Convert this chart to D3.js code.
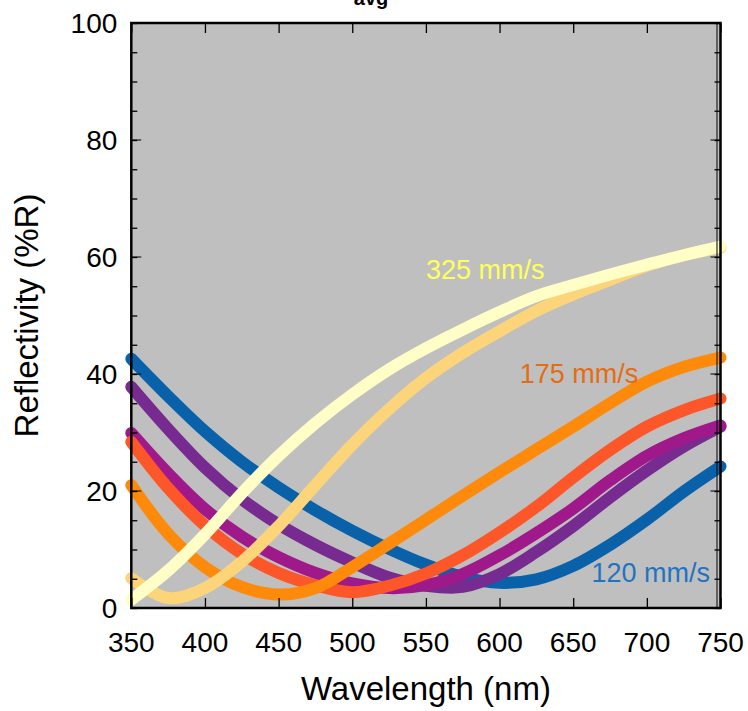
<!DOCTYPE html>
<html>
<head>
<meta charset="utf-8">
<script src="https://cdn.jsdelivr.net/npm/d3@7"></script>
<style>
    body { margin: 0; background: #ffffff; }
    #reflectivity-chart { width: 748px; height: 711px; }
    text { font-family: "Liberation Sans", Arial, sans-serif; }
</style>
</head>
<body>
<div id="reflectivity-chart"></div>
<script>
// wavelength grid (nm) shared by every curve
var wavelengths = [350, 375, 400, 425, 450, 475, 500, 525, 550, 575, 600, 625, 650, 675, 700, 725, 750];

// reflectivity (%R), one array per scan speed
var speed120 = [42.6, 36.2, 30.2, 25.0, 20.6, 16.7, 13.2, 10.1, 7.4, 5.3, 4.3, 4.9, 7.2, 10.8, 15.1, 19.9, 24.2];
var speedB = [37.8, 30.6, 24.0, 18.6, 14.3, 10.8, 7.8, 5.2, 3.8, 3.6, 5.8, 9.6, 14.0, 18.9, 23.5, 27.6, 31.0];
var speedC = [29.9, 23.0, 16.9, 12.2, 8.7, 6.0, 4.2, 3.4, 3.9, 5.8, 9.0, 12.8, 17.0, 21.8, 26.0, 29.0, 31.2];
var speedD = [28.4, 20.5, 14.1, 9.3, 6.0, 3.9, 2.7, 3.8, 5.9, 9.0, 12.9, 17.3, 22.3, 27.0, 31.0, 33.8, 35.8];
var speed175 = [21.0, 12.7, 7.0, 3.6, 2.3, 3.4, 7.0, 11.0, 15.1, 19.2, 23.2, 27.1, 31.0, 35.0, 38.7, 41.2, 42.8];
var speedF = [5.1, 1.7, 3.4, 7.9, 14.0, 21.0, 27.9, 34.0, 39.3, 43.6, 47.3, 50.8, 53.6, 56.1, 58.5, 60.3, 61.6];
var speed325 = [1.4, 6.4, 12.6, 19.6, 26.0, 31.6, 36.5, 40.8, 44.4, 47.6, 50.6, 53.3, 55.2, 57.0, 58.7, 60.3, 61.8];

var seriesColors = ['#0962a9', '#772a8f', '#a0198a', '#fd5628', '#fe8a0b', '#fcd47a', '#fffec6'];

// labels next to three of the curves
var labelTexts = ['325 mm/s', '175 mm/s', '120 mm/s'];
var labelWavelengths = [550, 613.7, 662.4];
var labelValues = [56.2, 38.5, 4.5];
var labelColors = ['#ffff5a', '#e46c12', '#1f74c2'];

var xTicks = [350, 400, 450, 500, 550, 600, 650, 700, 750];
var yTicks = [0, 20, 40, 60, 80, 100];

/**
 * Constructor for the reflectivity chart
 */
function ReflectivityChart(series)
{
    var self = this;

    self.series = series;
    self.init();
}

/**
 * Sets up the svg element for the chart
 */
ReflectivityChart.prototype.init = function()
{
    var self = this;
    self.margin = {top: 23, right: 27.5, bottom: 103, left: 131.3};

    self.svgWidth = 748;
    self.svgHeight = 711;
    self.width = self.svgWidth - self.margin.left - self.margin.right;
    self.height = self.svgHeight - self.margin.top - self.margin.bottom;

    self.svg = d3.select('#reflectivity-chart').append('svg')
        .attr('width', self.svgWidth)
        .attr('height', self.svgHeight);
};

/**
 * Draws the frame, ticks, curves and labels
 */
ReflectivityChart.prototype.update = function()
{
    var self = this;

    var x = d3.scaleLinear()
        .domain([350, 750])
        .range([0, self.width]);

    var y = d3.scaleLinear()
        .domain([0, 100])
        .range([self.height, 0]);

    // title, cut off at the top edge
    self.svg.append('text')
        .attr('x', 371)
        .attr('y', 5)
        .attr('text-anchor', 'middle')
        .style('font-size', '20px')
        .style('font-weight', 'bold')
        .text('avg');

    var g = self.svg.append('g')
        .attr('transform', 'translate(' + self.margin.left + ',' + self.margin.top + ')');

    g.append('rect')
        .attr('width', self.width)
        .attr('height', self.height)
        .style('fill', '#bfbfbf');

    // curves
    var line = d3.line()
        .x(function(d) { return x(d[0]); })
        .y(function(d) { return y(d[1]); })
        .curve(d3.curveCatmullRom);

    self.series.forEach(function(values, i) {
        g.append('path')
            .attr('d', line(wavelengths.map(function(w, j) { return [w, values[j]]; })))
            .style('fill', 'none')
            .style('stroke', seriesColors[i])
            .style('stroke-width', 12)
            .style('stroke-linecap', 'round')
            .style('stroke-linejoin', 'round');
    });

    // ticks on all four sides, pointing inward
    var minorY = d3.range(0, 101, 5);
    var yAxisLeft = d3.axisLeft(y).tickValues(minorY)
        .tickSize(-6).tickFormat('');
    var yAxisRight = d3.axisRight(y).tickValues(minorY)
        .tickSize(-6).tickFormat('');
    var xAxisBottom = d3.axisBottom(x).tickValues(xTicks)
        .tickSize(-10).tickFormat('');
    var xAxisTop = d3.axisTop(x).tickValues(xTicks)
        .tickSize(-10).tickFormat('');

    g.append('g').attr('class', 'axis').call(yAxisLeft);
    g.append('g').attr('class', 'axis')
        .attr('transform', 'translate(' + self.width + ',0)').call(yAxisRight);
    g.append('g').attr('class', 'axis')
        .attr('transform', 'translate(0,' + self.height + ')').call(xAxisBottom);
    g.append('g').attr('class', 'axis').call(xAxisTop);

    // longer marks for the labelled y values
    g.selectAll('.major-left')
        .data(yTicks)
        .enter().append('line')
        .attr('x1', 0).attr('x2', 10)
        .attr('y1', function(d) { return y(d); })
        .attr('y2', function(d) { return y(d); })
        .style('stroke', '#000');
    g.selectAll('.major-right')
        .data(yTicks)
        .enter().append('line')
        .attr('x1', self.width - 10).attr('x2', self.width)
        .attr('y1', function(d) { return y(d); })
        .attr('y2', function(d) { return y(d); })
        .style('stroke', '#000');

    g.selectAll('.axis .domain').remove();
    g.selectAll('.axis line').style('stroke', '#000').style('stroke-width', 1.3);

    // frame
    g.append('rect')
        .attr('width', self.width)
        .attr('height', self.height)
        .style('fill', 'none')
        .style('stroke', '#000')
        .style('stroke-width', 2.5);
    g.append('line')
        .attr('x1', self.width - 3.5).attr('x2', self.width - 3.5)
        .attr('y1', 0).attr('y2', self.height)
        .style('stroke', '#000')
        .style('stroke-width', 1);

    // tick labels
    g.selectAll('.x-label')
        .data(xTicks)
        .enter().append('text')
        .attr('x', function(d) { return x(d); })
        .attr('y', self.height + 44)
        .attr('text-anchor', 'middle')
        .style('font-size', '28px')
        .text(function(d) { return d; });

    g.selectAll('.y-label')
        .data(yTicks)
        .enter().append('text')
        .attr('x', -14)
        .attr('y', function(d) { return y(d) + 10; })
        .attr('text-anchor', 'end')
        .style('font-size', '28px')
        .text(function(d) { return d; });

    // axis titles
    self.svg.append('text')
        .attr('x', self.margin.left + self.width / 2)
        .attr('y', 700)
        .attr('text-anchor', 'middle')
        .style('font-size', '33px')
        .text('Wavelength (nm)');

    self.svg.append('text')
        .attr('transform', 'translate(38,' + (self.margin.top + self.height / 2) + ') rotate(-90)')
        .attr('text-anchor', 'middle')
        .style('font-size', '33px')
        .text('Reflectivity (%R)');

    // speed labels
    labelTexts.forEach(function(t, i) {
        g.append('text')
            .attr('x', x(labelWavelengths[i]))
            .attr('y', y(labelValues[i]))
            .style('font-size', '27px')
            .style('fill', labelColors[i])
            .text(t);
    });
};

var chart = new ReflectivityChart([speed120, speedB, speedC, speedD, speed175, speedF, speed325]);
chart.update();
</script>
</body>
</html>
